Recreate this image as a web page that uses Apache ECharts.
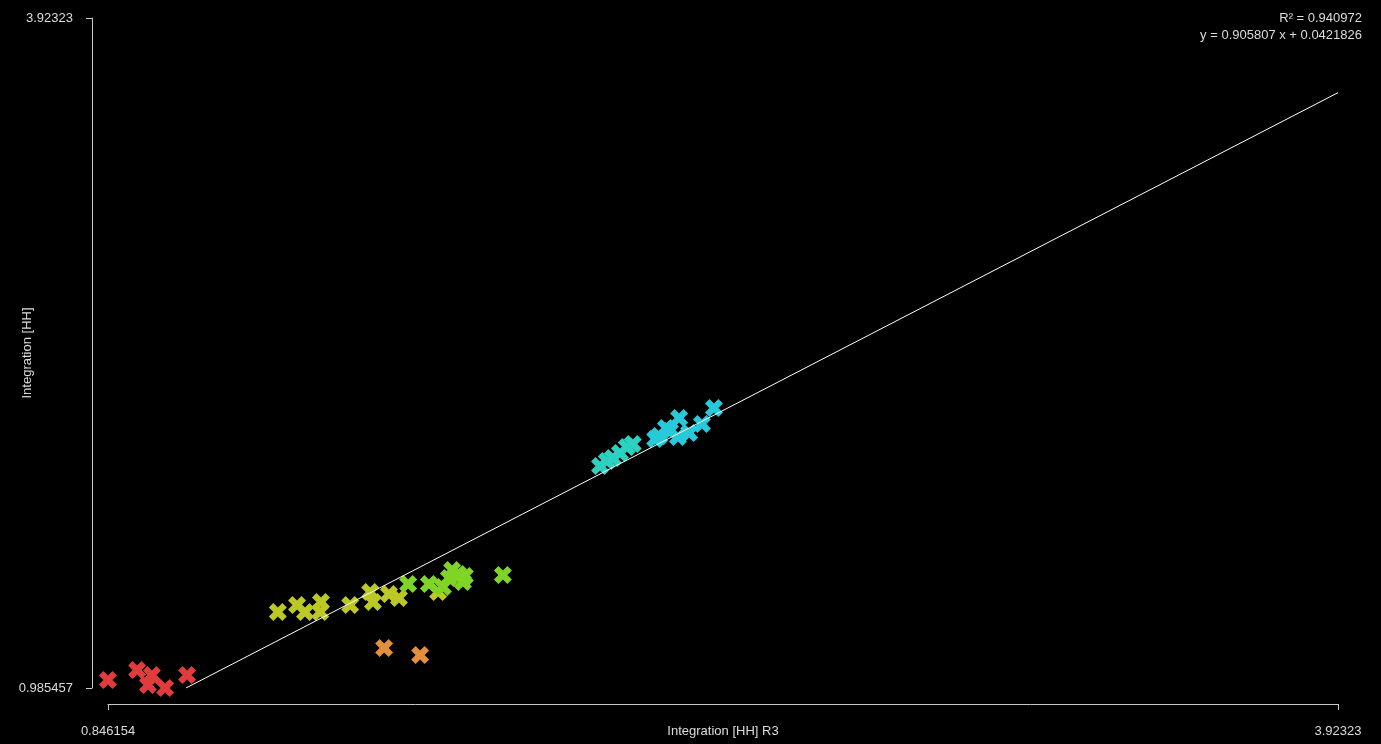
<!DOCTYPE html>
<html>
<head>
<meta charset="utf-8">
<style>
  html, body { margin: 0; padding: 0; background: #000; }
  #chart { width: 1381px; height: 744px; }
</style>
<script src="https://cdn.jsdelivr.net/npm/echarts@6/dist/echarts.min.js"></script>
</head>
<body>
<div id="chart"></div>
<script>
// Axis extents and tick labels
const xRange = [0.846154, 3.92323];
const yRange = [0.985457, 3.92323];
const xTickLabels = ['0.846154', '3.92323'];
const yTickLabels = ['0.985457', '3.92323'];
const xTitle = 'Integration [HH] R3';
const yTitle = 'Integration [HH]';

// Linear fit
const slope = 0.905807;
const intercept = 0.0421826;
const rSquared = '0.940972';

// Sample groups: [x, y]
const redPts = [[0.846, 1.021], [0.919, 1.064], [0.956, 1.042], [0.946, 0.999], [0.989, 0.9855], [1.044, 1.042]];
const orangePts = [[1.537, 1.161], [1.627, 1.130]];
const olivePts = [[1.271, 1.319], [1.319, 1.349], [1.339, 1.319], [1.379, 1.363], [1.377, 1.319], [1.452, 1.349],
                  [1.502, 1.406], [1.509, 1.363], [1.549, 1.398], [1.574, 1.380], [1.672, 1.406]];
const limePts = [[1.597, 1.441], [1.649, 1.441], [1.684, 1.428], [1.707, 1.503], [1.722, 1.485], [1.739, 1.477],
                 [1.734, 1.450], [1.699, 1.468], [1.834, 1.481]];
const tealPts = [[2.077, 1.959], [2.094, 1.981], [2.109, 1.994], [2.127, 2.016], [2.144, 2.042], [2.159, 2.055]];
const cyanPts = [[2.215, 2.077], [2.225, 2.090], [2.242, 2.125], [2.252, 2.112], [2.275, 2.169], [2.272, 2.086],
                 [2.300, 2.104], [2.332, 2.143], [2.362, 2.213]];

const groups = [
  { data: redPts, color: '#e03c3c' },
  { data: orangePts, color: '#e38f3b' },
  { data: olivePts, color: '#bcc823' },
  { data: limePts, color: '#80d426' },
  { data: tealPts, color: '#2cd2c0' },
  { data: cyanPts, color: '#26cadb' }
];

// Thick "x" marker
const crossPath = 'path://M0,5L5,0L10,5L15,0L20,5L15,10L20,15L15,20L10,15L5,20L0,15L5,10Z';

// Fit line runs from where it meets the lower y bound to the right edge
const fitStartX = (yRange[0] - intercept) / slope;
const fitLine = [[fitStartX, slope * fitStartX + intercept], [xRange[1], slope * xRange[1] + intercept]];

const axisColor = '#c8c8c8';
const textColor = '#dcdcdc';
const font = 'Liberation Sans, Arial, sans-serif';
const fontPx = 13;

const chart = echarts.init(document.getElementById('chart'), null, { renderer: 'canvas' });

const series = groups.map(g => ({
  type: 'scatter',
  data: g.data,
  symbol: crossPath,
  symbolSize: 18,
  itemStyle: { color: g.color, opacity: 1 },
  z: 2
}));
series.push({
  type: 'line',
  data: fitLine,
  showSymbol: false,
  symbol: 'none',
  lineStyle: { color: '#ffffff', width: 1 },
  z: 5,
  silent: true
});

chart.setOption({
  backgroundColor: '#000000',
  animation: false,
  grid: { left: 108, right: 43, top: 18, bottom: 56 },
  xAxis: {
    type: 'value',
    min: xRange[0],
    max: xRange[1],
    offset: 16,
    splitLine: { show: false },
    axisLine: { show: true, onZero: false, lineStyle: { color: axisColor, width: 1 } },
    axisTick: { show: true, length: 6, customValues: xRange, lineStyle: { color: axisColor } },
    axisLabel: {
      customValues: xRange,
      margin: 21,
      color: textColor,
      fontSize: fontPx,
      fontFamily: font,
      formatter: v => (Math.abs(v - xRange[0]) < 1e-9 ? xTickLabels[0] : xTickLabels[1])
    }
  },
  yAxis: {
    type: 'value',
    min: yRange[0],
    max: yRange[1],
    offset: 16,
    splitLine: { show: false },
    axisLine: { show: true, onZero: false, lineStyle: { color: axisColor, width: 1 } },
    axisTick: { show: true, length: 6, customValues: yRange, lineStyle: { color: axisColor } },
    axisLabel: {
      customValues: yRange,
      margin: 19,
      color: textColor,
      fontSize: fontPx,
      fontFamily: font,
      formatter: v => (Math.abs(v - yRange[0]) < 1e-9 ? yTickLabels[0] : yTickLabels[1])
    }
  },
  graphic: [
    {
      type: 'text', x: 723, y: 731,
      style: { text: xTitle, fill: textColor, font: fontPx + 'px ' + font, textAlign: 'center', textVerticalAlign: 'middle' }
    },
    {
      type: 'text', x: 27, y: 353, rotation: Math.PI / 2,
      style: { text: yTitle, fill: textColor, font: fontPx + 'px ' + font, textAlign: 'center', textVerticalAlign: 'middle' }
    },
    {
      type: 'text', x: 1362, y: 18,
      style: { text: 'R² = ' + rSquared, fill: textColor, font: fontPx + 'px ' + font, textAlign: 'right', textVerticalAlign: 'middle' }
    },
    {
      type: 'text', x: 1362, y: 35,
      style: { text: 'y = ' + slope + ' x + ' + intercept, fill: textColor, font: fontPx + 'px ' + font, textAlign: 'right', textVerticalAlign: 'middle' }
    }
  ],
  series: series
});
</script>
</body>
</html>
